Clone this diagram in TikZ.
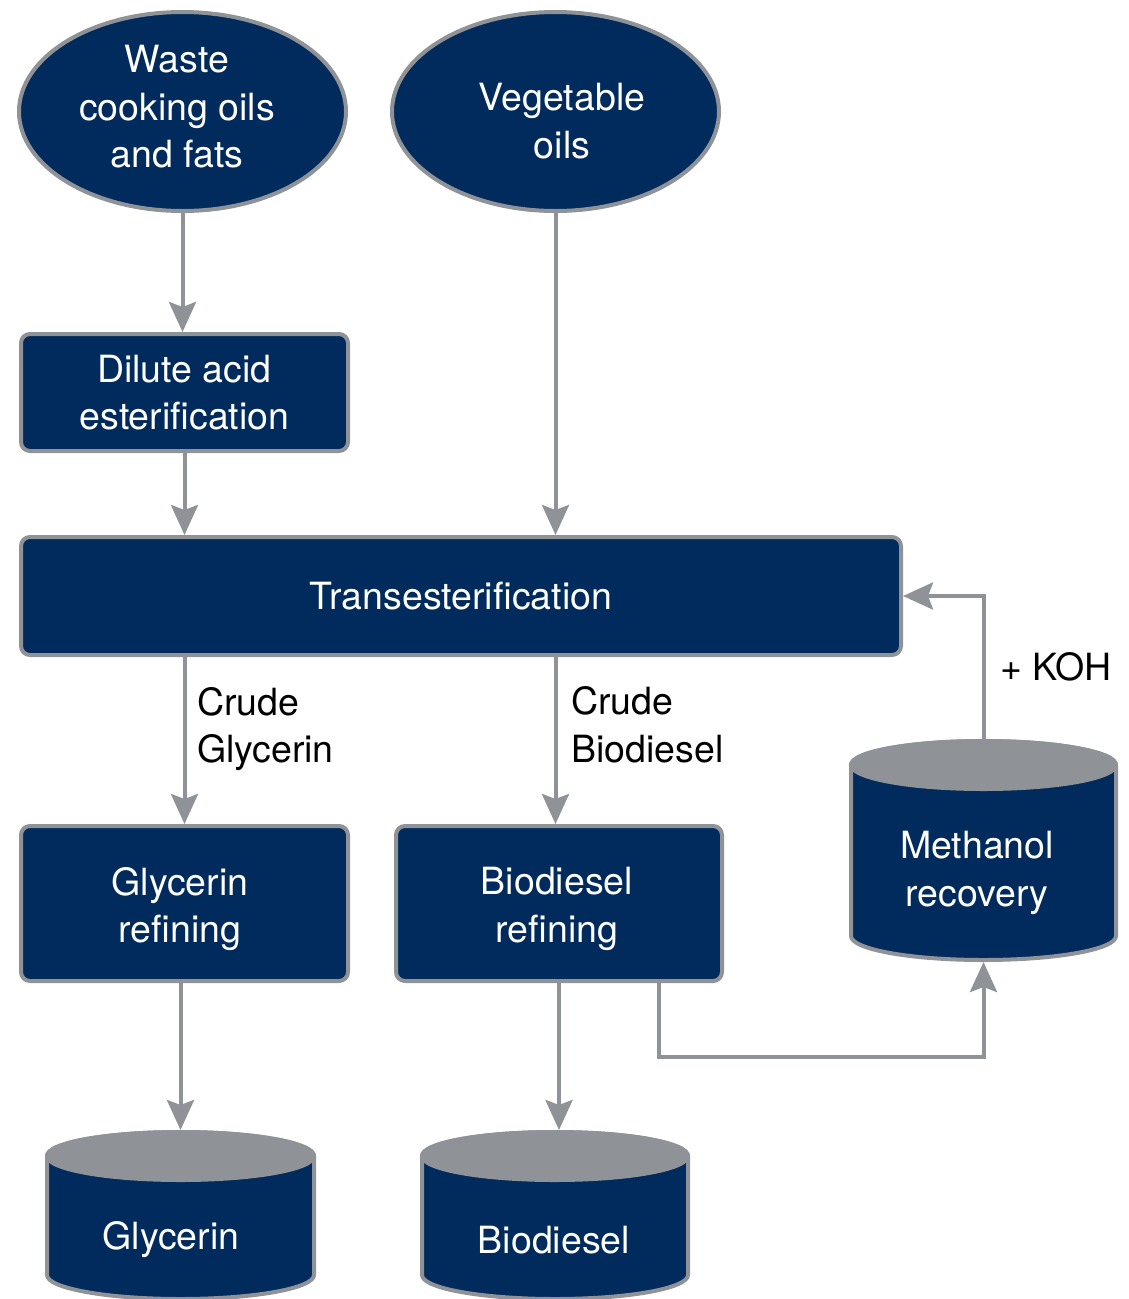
\documentclass[tikz,border=0pt]{standalone}
\usepackage{fontspec}
\setmainfont{TeX Gyre Heros}
\usetikzlibrary{arrows.meta,shapes.geometric}
\definecolor{navy}{HTML}{002B5C}
\definecolor{steel}{HTML}{8F9297}

% Storage tank: name, centre x, lid centre y, bottom-side y, half width, text, text x, text y
\newcommand\tank[8]{%
  \draw[tankbody] ({#2-#5},#3) -- ({#2-#5},#4)
    arc[start angle=180,end angle=360,x radius=#5pt,y radius=24pt]
    -- ({#2+#5},#3)
    arc[start angle=0,end angle=180,x radius=#5pt,y radius=24pt] -- cycle;
  \draw[tanklid] (#2,#3) ellipse[x radius=#5pt,y radius=24pt];
  \node[inlay] (#1) at (#7,#8) {#6};
  \coordinate (#1-top) at (#2,{#3-26});
  \coordinate (#1-bot) at (#2,{#4+26});
}

\begin{document}
\begin{tikzpicture}[x=1pt,y=-1pt,
  every node/.style={font=\fontsize{37.5}{47.5}\selectfont},
  block/.style={draw=steel,fill=navy,line width=4pt,text=white,align=center,
    rounded corners=9pt,inner sep=0pt},
  source/.style={ellipse,draw=steel,fill=navy,line width=4pt,
    inner sep=0pt,minimum width=327pt,minimum height=199pt},
  tankbody/.style={draw=steel,fill=navy,line width=4pt,line join=round},
  tanklid/.style={draw=steel,fill=steel,line width=4pt},
  inlay/.style={text=white,align=center,inner sep=0pt},
  flow/.style={draw=steel,line width=4pt,-{Stealth[length=30pt,width=27pt,inset=5pt]}},
  note/.style={anchor=west,align=left,text=black,inner sep=0pt},
]
\useasboundingbox (0,0) rectangle (1128,1299);

% raw materials
\node[source] (waste) at (182.5,111.5) {};
\node[inlay] (wastetext) at (177,107) {Waste\\cooking oils\\and fats};
\node[source] (veg) at (555.5,111.5) {};
\node[inlay] (vegtext) at (562,121) {Vegetable\\oils};

% process steps
\node[block,minimum width=327pt,minimum height=117pt] (dilute) at (184.5,392.5)
  {Dilute acid\\esterification};
\node[block,minimum width=880pt,minimum height=118pt] (trans) at (461,596)
  {Transesterification};
\node[block,minimum width=327pt,minimum height=155pt] (glyref) at (184.5,903.5)
  {};
\node[inlay] (glyreftext) at (180,909) {Glycerin\\refining};
\node[block,minimum width=326pt,minimum height=155pt] (bioref) at (559,903.5)
  {};
\node[inlay] (bioreftext) at (557,909) {Biodiesel\\refining};

% storage
\tank{methanol}{983.5}{765}{936}{132.5}{Methanol\\recovery}{977}{873}
\tank{glycerin}{180.5}{1156}{1275}{133.5}{Glycerin}{171}{1240}
\tank{biodiesel}{555}{1156}{1275}{133}{Biodiesel}{554}{1240}

% flows
\draw[flow] (waste.south) -- (waste.south |- dilute.north);
\draw[flow] (dilute.south) -- (dilute.south |- trans.north);
\draw[flow] (veg.south) -- (veg.south |- trans.north);
\draw[flow] (glyref.north |- trans.south) -- (glyref.north);
\draw[flow] (veg.south |- trans.south) -- (veg.south |- bioref.north);
\draw[flow] (glycerin-top |- glyref.south) -- (glycerin-top);
\draw[flow] (bioref.south) -- (bioref.south |- biodiesel-top);
\coordinate (loop) at (659,1057);
\draw[flow] (loop |- bioref.south) -- (loop) -| (methanol-bot);
\draw[flow] (methanol-top) |- (trans.east);

% stream labels
\node[note] (crudegly) at (197,729) {Crude\\Glycerin};
\node[note] (crudebio) at (571,725) {Crude\\Biodiesel};
\node[note] (koh) at (1000,667) {+ KOH};
\end{tikzpicture}
\end{document}
